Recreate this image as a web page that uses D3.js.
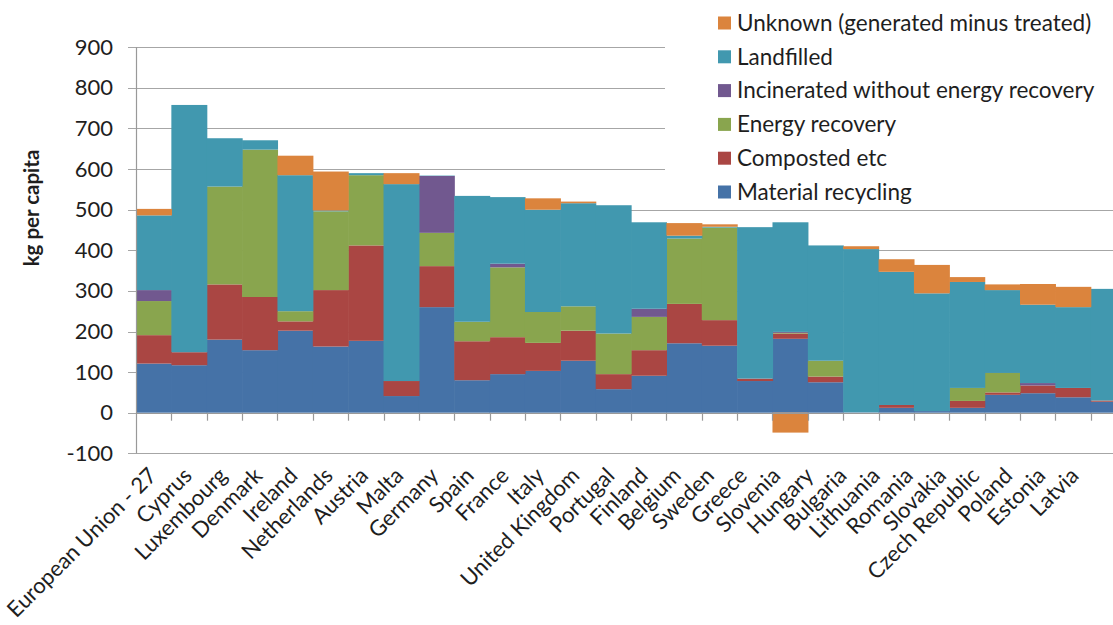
<!DOCTYPE html>
<html>
<head>
<meta charset="utf-8">
<script src="https://cdn.jsdelivr.net/npm/d3@7"></script>
<style>
  html, body { margin: 0; padding: 0; background: #fff; }
  svg { display: block; }
  text { font-family: Lato, "Open Sans", sans-serif; fill: #1e1e1e; }
</style>
</head>
<body>
<svg id="chart" width="1113" height="625"></svg>
<script>
const countries = ["European Union - 27","Cyprus","Luxembourg","Denmark","Ireland","Netherlands","Austria","Malta","Germany","Spain","France","Italy","United Kingdom","Portugal","Finland","Belgium","Sweden","Greece","Slovenia","Hungary","Bulgaria","Lithuania","Romania","Slovakia","Czech Republic","Poland","Estonia","Latvia"];

const recycling   = [121,117,180,154,202,163,177, 41,260, 80, 95,103,128, 58, 91,171,165, 78,182, 75,  1, 12,  4, 12, 44, 48, 38, 27];
const composted   = [ 70, 32,136,131, 23,139,235, 37,101, 96, 91, 69, 74, 37, 63, 97, 63,  6, 13, 14,  0,  7,  0, 17,  6, 19, 23,  3];
const energy      = [ 84,  0,241,363, 25,194,173,  0, 82, 48,172, 76, 60,100, 82,161,228,  0,  2, 39,  0,  0,  0, 32, 48,  0,  0,  0];
const incinerated = [ 27,  0,  0,  0,  0,  0,  0,  0,140,  0,  9,  0,  0,  0, 20,  0,  0,  0,  2,  0,  0,  0,  0,  0,  0,  6,  0,  0];
const landfilled  = [184,609,119, 23,335,  2,  5,485,  1,310,164,252,254,316,213,  7,  2,373,270,284,402,328,290,261,204,193,199,275];
const unknown     = [ 16,  0,  0,  0, 48, 96,  0, 27,  0,  0,  0, 28,  4,  0,  0, 31,  6,  0,-49,  0,  7, 31, 70, 12, 14, 51, 50,  0];

const seriesNames = ["Material recycling","Composted etc","Energy recovery","Incinerated without energy recovery","Landfilled","Unknown (generated minus treated)"];
const seriesValues = [recycling, composted, energy, incinerated, landfilled, unknown];
const colors = ["#4572A7","#AA4643","#89A54E","#71588F","#4198AF","#DB843D"];
const yTicks = [-100,0,100,200,300,400,500,600,700,800,900];

const svg = d3.select("#chart");

const plotLeft = 136, step = 35.36;
const x = d3.scaleBand().domain(countries).range([plotLeft, plotLeft + step * countries.length]).paddingInner(0).paddingOuter(0);
const y = d3.scaleLinear().domain([-100, 900]).range([453.3, 47.3]);

// table for stacking
const table = countries.map((c, i) => {
  const row = { country: c };
  seriesNames.forEach((s, k) => row[s] = seriesValues[k][i]);
  return row;
});
const stack = d3.stack().keys(seriesNames).offset(d3.stackOffsetDiverging);
const stacked = stack(table);

// gridlines
const gridG = svg.append("g");
gridG.selectAll("line").data(yTicks).join("line")
  .attr("x1", plotLeft - 8)
  .attr("x2", d => (y(d) < 202 ? 665 : 1113))
  .attr("y1", d => Math.round(y(d)) + 0.5)
  .attr("y2", d => Math.round(y(d)) + 0.5)
  .attr("stroke", "#a6a6a6").attr("stroke-width", 1.2);

// bars
const barsG = svg.append("g");
barsG.selectAll("g").data(stacked).join("g")
  .attr("fill", (d, i) => colors[i])
  .selectAll("rect").data(d => d).join("rect")
  .attr("x", d => x(d.data.country))
  .attr("width", x.bandwidth() + 0.6)
  .attr("y", d => y(Math.max(d[0], d[1])))
  .attr("height", d => Math.abs(y(d[0]) - y(d[1])));

// y axis
const yAxis = d3.axisLeft(y).tickValues(yTicks).tickSize(0).tickPadding(23).tickFormat(d => String(d));
const yg = svg.append("g").attr("transform", `translate(${plotLeft},0)`).call(yAxis);
yg.select(".domain").remove();
yg.selectAll("text").attr("font-size", 22).attr("font-family", "Lato").attr("fill", "#1e1e1e");
svg.append("line").attr("x1", plotLeft + 0.5).attr("x2", plotLeft + 0.5)
  .attr("y1", y(900)).attr("y2", y(-100)).attr("stroke", "#999").attr("stroke-width", 1.2);

// x axis at zero, with ticks at category boundaries
svg.append("line").attr("x1", plotLeft).attr("x2", 1113)
  .attr("y1", Math.round(y(0)) + 0.5).attr("y2", Math.round(y(0)) + 0.5)
  .attr("stroke", "#999").attr("stroke-width", 1.2);
svg.append("g").selectAll("line").data(countries.slice(1)).join("line")
  .attr("x1", d => Math.round(x(d)) + 0.5).attr("x2", d => Math.round(x(d)) + 0.5)
  .attr("y1", y(0)).attr("y2", y(0) + 8)
  .attr("stroke", "#999").attr("stroke-width", 1.2);

// category labels (rotated)
const labelX = d3.scaleLinear().domain([0, 13, 27]).range([158, 616, 1080]);
svg.append("g").selectAll("text").data(countries).join("text")
  .attr("transform", (d, i) => `translate(${labelX(i)},${477}) rotate(-45)`)
  .attr("text-anchor", "end")
  .attr("font-size", 22)
  .text(d => d);

// y axis title
svg.append("text")
  .attr("transform", "translate(39,208) rotate(-90)")
  .attr("text-anchor", "middle")
  .attr("font-size", 20.5).attr("font-weight", "bold")
  .text("kg per capita");

// legend
const legendG = svg.append("g");
legendG.append("rect").attr("x", 666).attr("y", 0).attr("width", 450).attr("height", 203).attr("fill", "#fff");
const legendOrder = [5,4,3,2,1,0];
const li = legendG.selectAll("g").data(legendOrder).join("g")
  .attr("transform", (d, i) => `translate(718,${23 + i * 33.8})`);
li.append("rect").attr("x", 0).attr("y", -6.5).attr("width", 13).attr("height", 13).attr("fill", d => colors[d]);
li.append("text").attr("x", 19).attr("y", 0).attr("dy", "0.35em").attr("font-size", 22.5).text(d => seriesNames[d]);
</script>
</body>
</html>
